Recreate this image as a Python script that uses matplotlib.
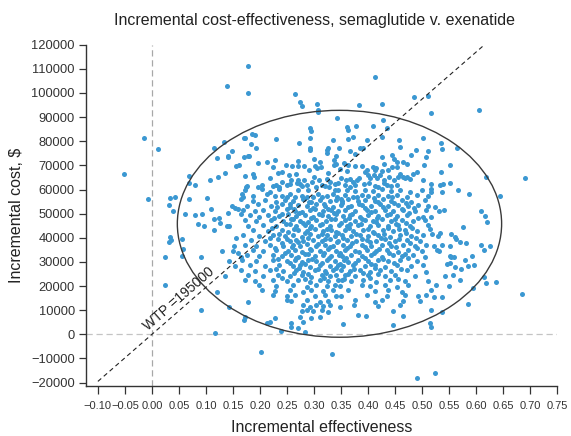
import numpy as np
import matplotlib.pyplot as plt
from matplotlib.patches import Ellipse

plt.rcParams['font.family'] = ['Liberation Sans', 'DejaVu Sans']
plt.rcParams['axes.unicode_minus'] = True

# (incremental effectiveness, incremental cost in $1000)
upper_pts = [
    (0.178, 111.3), (0.138, 102.8), (0.177, 99.9), (0.265, 99.4), (0.274, 96.1),
    (0.278, 94.8), (0.306, 95.4), (0.307, 92.9), (0.307, 92.0), (0.412, 106.6),
    (0.383, 95.2), (0.425, 95.6), (0.484, 98.4), (0.510, 98.7), (0.516, 91.6),
    (0.606, 93.1), (0.343, 89.5), (0.427, 89.0), (0.292, 85.3), (0.294, 84.3),
    (0.361, 85.9), (0.362, 84.8), (0.378, 86.5), (0.434, 85.4), (0.409, 86.2),
    (0.172, 81.2), (0.185, 82.8), (0.190, 82.6), (0.229, 80.8), (0.292, 81.4),
    (0.335, 80.5), (0.362, 80.9), (0.372, 81.8), (0.397, 80.5), (0.425, 81.8),
    (0.457, 80.7), (0.501, 81.4), (-0.015, 81.35), (0.171, 81.35),
    (0.134, 79.7), (0.114, 77.2), (0.149, 75.95), (0.0106, 76.66), (0.184, 79.0),
    (0.193, 77.0), (0.272, 79.4), (0.292, 77.0), (0.292, 76.2), (0.325, 77.4),
    (0.324, 76.2), (0.323, 75.1), (0.346, 77.1), (0.366, 76.0), (0.385, 77.4),
    (0.391, 77.2), (0.459, 77.6), (0.489, 76.4), (0.510, 76.1), (0.534, 79.2),
    (0.536, 76.8), (0.564, 77.1),
    (0.121, 72.9), (0.140, 73.6), (0.140, 73.9), (0.170, 73.3), (0.178, 73.9),
    (0.162, 70.3), (0.155, 69.6), (0.136, 67.0), (0.068, 65.6), (0.122, 65.1),
    (0.108, 64.1), (0.068, 62.9), (0.080, 62.0), (0.172, 65.6), (0.174, 60.9),
    (-0.051, 66.4), (-0.007, 56.0),
    (0.375, 74.9), (0.426, 73.5), (0.444, 74.5), (0.448, 72.8), (0.180, 73.9),
    (0.228, 72.4), (0.196, 71.1), (0.212, 71.4), (0.224, 69.2), (0.248, 70.0),
    (0.271, 71.7), (0.259, 69.6), (0.271, 69.6), (0.282, 69.6), (0.299, 72.8),
    (0.311, 71.5), (0.312, 69.2), (0.301, 69.6), (0.305, 68.9), (0.340, 73.7),
    (0.337, 72.4), (0.337, 70.0), (0.341, 70.4), (0.348, 68.6), (0.356, 71.1),
    (0.363, 70.0), (0.375, 69.9), (0.388, 69.6), (0.398, 68.2), (0.409, 69.3),
    (0.412, 68.2), (0.415, 68.8), (0.430, 70.4), (0.437, 68.2), (0.444, 69.2),
    (0.453, 69.3),
    (0.453, 71.4), (0.465, 71.4), (0.471, 70.7), (0.479, 74.2), (0.507, 73.5),
    (0.503, 70.3), (0.551, 70.3), (0.535, 67.2), (0.459, 66.6), (0.464, 65.1),
    (0.468, 64.9), (0.472, 65.1), (0.477, 64.5), (0.483, 66.6), (0.491, 67.2),
    (0.502, 63.8), (0.517, 62.1), (0.533, 62.0), (0.539, 62.4), (0.551, 62.8),
    (0.619, 65.1), (0.690, 64.9), (0.567, 59.9),
    (0.187, 66.3), (0.189, 65.2), (0.218, 64.9), (0.234, 66.8), (0.254, 65.9),
    (0.258, 63.8), (0.266, 66.6), (0.271, 64.1), (0.274, 62.4), (0.282, 64.1),
    (0.300, 65.2), (0.309, 63.8), (0.324, 64.5), (0.329, 63.1), (0.338, 62.4),
    (0.328, 61.0), (0.350, 64.7), (0.359, 63.8), (0.366, 64.5), (0.380, 63.8),
    (0.383, 64.9), (0.392, 62.4), (0.399, 65.9), (0.404, 64.9), (0.410, 65.9),
    (0.416, 64.9), (0.422, 65.9), (0.429, 63.8), (0.439, 65.2), (0.448, 63.8),
    (0.456, 65.2),
    (0.175, 61.6), (0.196, 61.2), (0.203, 61.9), (0.224, 61.4), (0.230, 62.0),
    (0.236, 61.1), (0.249, 61.7), (0.255, 62.1), (0.277, 61.3), (0.286, 61.8),
    (0.304, 61.2), (0.314, 61.9), (0.320, 61.4), (0.357, 61.7), (0.366, 61.0),
    (0.375, 62.0), (0.412, 61.5), (0.419, 61.1), (0.434, 61.8), (0.443, 61.3),
    (0.453, 61.9),
]

left_pts = [
    (0.033, 56.4), (0.043, 56.9), (0.031, 53.4), (0.039, 51.3), (0.068, 56.2),
    (0.101, 56.4), (0.061, 49.8), (0.079, 49.5), (0.093, 49.7), (0.110, 51.8),
    (0.114, 47.9), (0.124, 48.3), (0.126, 46.3), (0.085, 45.8), (0.096, 44.7),
    (0.114, 43.3), (0.138, 44.7), (0.143, 45.0), (0.141, 50.4), (0.149, 53.0),
    (0.154, 52.2), (0.159, 51.9), (0.164, 49.9),
    (0.033, 40.5), (0.035, 38.9), (0.031, 38.4), (0.056, 39.5), (0.057, 35.4),
    (0.056, 32.6), (0.025, 32.2), (0.091, 32.2), (0.130, 34.4), (0.151, 36.8),
    (0.156, 39.8), (0.150, 34.7), (0.160, 33.9), (0.142, 30.5), (0.154, 28.5),
    (0.135, 24.0), (0.121, 17.7), (0.024, 20.6), (0.090, 10.1), (0.143, 11.4),
    (0.116, 0.6), (0.170, 5.9), (0.164, 31.9),
]

core_pts_a = [
    (0.166, 58.0), (0.172, 59.6), (0.169, 56.8), (0.187, 57.5), (0.212, 58.3),
    (0.227, 57.5), (0.240, 57.5), (0.255, 58.3), (0.264, 56.8), (0.277, 57.5),
    (0.286, 56.8), (0.298, 57.1), (0.307, 58.3), (0.323, 57.5), (0.335, 58.0),
    (0.343, 57.1), (0.270, 59.9), (0.289, 59.6), (0.338, 60.0), (0.344, 59.6),
    (0.204, 60.3), (0.235, 60.3), (0.218, 59.0),
    (0.165, 55.9), (0.187, 55.1), (0.209, 55.8), (0.230, 54.9), (0.246, 55.6),
    (0.261, 55.2), (0.280, 56.0), (0.295, 55.0), (0.311, 55.7), (0.329, 55.3),
    (0.341, 55.8),
    (0.175, 53.0), (0.196, 53.8), (0.221, 53.2), (0.240, 53.9), (0.255, 52.9),
    (0.270, 53.6), (0.286, 53.1), (0.304, 53.9), (0.320, 53.3), (0.335, 52.8),
    (0.169, 51.7), (0.190, 50.9), (0.206, 51.6), (0.227, 51.0), (0.249, 51.8),
    (0.264, 51.2), (0.277, 50.8), (0.292, 51.5), (0.301, 51.9), (0.317, 51.1),
    (0.332, 51.6), (0.345, 50.9),
    (0.181, 49.6), (0.199, 48.8), (0.215, 49.5), (0.236, 49.0), (0.252, 49.7),
    (0.267, 48.9), (0.283, 49.4), (0.298, 48.7), (0.314, 49.6), (0.326, 49.1),
    (0.341, 49.8),
    (0.172, 47.5), (0.193, 46.8), (0.221, 47.4), (0.243, 46.9), (0.261, 47.6),
    (0.274, 47.0), (0.289, 46.7), (0.304, 47.5), (0.322, 47.0), (0.338, 47.6),
    (0.178, 44.8), (0.206, 45.5), (0.230, 45.0), (0.255, 45.6), (0.267, 44.7),
    (0.283, 45.3), (0.295, 44.9), (0.311, 45.5), (0.329, 45.0), (0.346, 45.4),
    (0.187, 43.3), (0.215, 42.7), (0.240, 43.4), (0.252, 42.6), (0.270, 43.2),
    (0.286, 42.8), (0.301, 43.5), (0.317, 42.9), (0.332, 43.3), (0.341, 42.5),
    (0.169, 41.2), (0.199, 40.6), (0.224, 41.3), (0.246, 40.7), (0.261, 41.1),
    (0.277, 40.5), (0.292, 41.4), (0.307, 40.8), (0.323, 41.2), (0.338, 40.6),
    (0.184, 39.2), (0.209, 38.6), (0.233, 39.3), (0.255, 38.7), (0.267, 39.1),
    (0.280, 38.5), (0.298, 39.2), (0.314, 38.8), (0.329, 39.4), (0.345, 38.6),
    (0.172, 37.1), (0.193, 36.5), (0.218, 37.2), (0.243, 36.6), (0.261, 37.0),
    (0.274, 36.4), (0.286, 37.3), (0.304, 36.7), (0.320, 37.1), (0.335, 36.5),
    (0.187, 35.0), (0.206, 34.4), (0.230, 35.1), (0.252, 34.5), (0.264, 34.9),
    (0.277, 34.3), (0.295, 35.0), (0.311, 34.6), (0.326, 35.2), (0.341, 34.4),
    (0.175, 32.9), (0.199, 32.3), (0.224, 33.0), (0.240, 32.4), (0.258, 32.8),
    (0.270, 32.2), (0.283, 33.1), (0.301, 32.5), (0.317, 32.9), (0.332, 32.3),
    (0.346, 32.8),
    (0.167, 30.8), (0.193, 30.2), (0.224, 30.9), (0.249, 30.3), (0.264, 30.7),
    (0.277, 30.1), (0.289, 30.8), (0.304, 30.4), (0.323, 30.9), (0.338, 30.2),
    (0.181, 28.8), (0.209, 28.2), (0.236, 28.9), (0.261, 28.3), (0.274, 28.7),
    (0.292, 28.1), (0.311, 28.8), (0.329, 28.4), (0.345, 28.9),
    (0.165, 26.7), (0.190, 26.1), (0.218, 26.8), (0.243, 26.2), (0.267, 26.6),
    (0.280, 26.0), (0.301, 26.7), (0.320, 26.3), (0.335, 26.8),
    (0.178, 24.6), (0.206, 24.0), (0.233, 24.7), (0.255, 24.1), (0.277, 24.5),
    (0.295, 23.9), (0.314, 24.6), (0.329, 24.2), (0.341, 24.7),
    (0.172, 22.5), (0.190, 21.9), (0.224, 22.6), (0.249, 22.0), (0.270, 22.4),
    (0.292, 21.8), (0.311, 22.5), (0.326, 22.1), (0.345, 22.6),
    (0.199, 20.5), (0.230, 19.9), (0.261, 20.4), (0.286, 19.8), (0.304, 20.5),
    (0.323, 20.0), (0.338, 20.3),
    (0.203, 18.4), (0.227, 17.8), (0.255, 18.3), (0.280, 17.7), (0.295, 18.4),
    (0.317, 17.9), (0.335, 18.2),
    (0.224, 16.3), (0.249, 15.7), (0.264, 16.2), (0.301, 15.8), (0.320, 16.4),
    (0.341, 15.9),
    (0.178, 13.6), (0.249, 14.2), (0.258, 13.7), (0.286, 14.1), (0.311, 13.6),
    (0.326, 14.0),
    (0.280, 12.1), (0.292, 11.5), (0.304, 12.0), (0.317, 11.6), (0.329, 12.2),
    (0.277, 9.5), (0.286, 10.1), (0.298, 9.6), (0.314, 10.0), (0.326, 9.4),
    (0.172, 7.3), (0.227, 6.8), (0.274, 7.2), (0.295, 6.7), (0.311, 7.1),
    (0.212, 4.6), (0.218, 5.2), (0.258, 4.7), (0.280, 5.1),
    (0.258, 2.9), (0.270, 2.5), (0.238, 1.5), (0.283, 1.0),
]

core_pts_b = [
    (0.360, 60.0), (0.375, 59.2), (0.394, 59.9), (0.409, 59.4), (0.425, 60.1),
    (0.443, 59.3), (0.459, 59.8), (0.477, 59.1), (0.499, 59.7), (0.517, 60.2),
    (0.357, 57.8), (0.372, 57.1), (0.388, 57.7), (0.400, 57.2), (0.419, 57.9),
    (0.437, 57.3), (0.453, 57.6), (0.471, 57.0), (0.490, 57.8), (0.511, 57.3),
    (0.352, 55.2), (0.363, 55.9), (0.382, 55.1), (0.394, 55.7), (0.412, 55.3),
    (0.428, 56.0), (0.443, 55.2), (0.462, 55.8), (0.480, 55.0), (0.505, 55.6),
    (0.350, 53.7), (0.369, 53.0), (0.388, 53.6), (0.406, 53.1), (0.422, 53.8),
    (0.437, 53.2), (0.456, 53.7), (0.474, 53.0), (0.493, 53.5), (0.511, 53.1),
    (0.358, 51.6), (0.375, 51.0), (0.397, 51.7), (0.412, 51.1), (0.431, 51.5),
    (0.446, 50.9), (0.465, 51.6), (0.487, 51.0), (0.508, 51.4),
    (0.354, 48.9), (0.366, 49.5), (0.385, 48.8), (0.400, 49.4), (0.419, 48.9),
    (0.434, 49.6), (0.453, 49.0), (0.471, 49.4), (0.502, 48.8),
    (0.357, 47.5), (0.375, 46.9), (0.394, 47.4), (0.409, 46.8), (0.425, 47.6),
    (0.443, 47.0), (0.462, 47.5), (0.483, 46.9), (0.505, 47.3),
    (0.360, 44.8), (0.382, 45.4), (0.403, 44.9), (0.419, 45.5), (0.437, 44.8),
    (0.456, 45.3), (0.477, 44.9), (0.511, 45.4), (0.366, 45.8),
    (0.357, 43.3), (0.372, 42.7), (0.391, 43.2), (0.409, 42.6), (0.428, 43.4),
    (0.446, 42.8), (0.468, 43.1), (0.490, 42.7),
    (0.351, 41.2), (0.369, 40.6), (0.385, 41.3), (0.400, 40.7), (0.419, 41.1),
    (0.440, 40.5), (0.459, 41.2), (0.480, 40.8), (0.502, 41.3),
    (0.360, 39.2), (0.378, 38.6), (0.397, 39.1), (0.415, 38.5), (0.431, 39.3),
    (0.449, 38.7), (0.471, 39.1), (0.496, 38.6),
    (0.354, 37.1), (0.366, 36.5), (0.388, 37.2), (0.406, 36.6), (0.425, 37.0),
    (0.443, 36.4), (0.465, 37.1), (0.487, 36.6), (0.508, 37.0),
    (0.357, 35.0), (0.375, 34.4), (0.397, 35.1), (0.415, 34.5), (0.434, 34.9),
    (0.456, 34.3), (0.474, 35.0), (0.499, 34.6),
    (0.351, 32.3), (0.369, 32.9), (0.388, 32.4), (0.406, 32.8), (0.425, 32.2),
    (0.446, 32.9), (0.462, 32.5), (0.483, 32.8), (0.505, 32.2),
    (0.356, 30.8), (0.363, 30.1), (0.382, 30.7), (0.400, 30.2), (0.419, 30.9),
    (0.437, 30.3), (0.459, 30.6), (0.490, 30.2),
    (0.354, 28.2), (0.372, 28.8), (0.394, 28.3), (0.412, 28.7), (0.431, 28.1),
    (0.453, 28.8), (0.480, 28.4), (0.502, 28.9),
    (0.350, 26.7), (0.366, 26.1), (0.385, 26.6), (0.403, 26.0), (0.422, 26.7),
    (0.443, 26.2), (0.471, 26.5), (0.508, 26.0),
    (0.357, 24.6), (0.375, 24.0), (0.400, 24.5), (0.431, 24.1), (0.449, 24.6),
    (0.487, 24.2),
    (0.352, 22.5), (0.369, 21.9), (0.391, 22.4), (0.415, 21.8), (0.440, 22.5),
    (0.468, 22.0), (0.511, 22.3),
    (0.348, 20.0), (0.388, 20.5), (0.403, 19.9), (0.431, 20.3), (0.453, 19.8),
    (0.474, 20.4),
    (0.363, 18.4), (0.412, 17.8), (0.437, 18.3), (0.462, 17.7), (0.517, 18.2),
    (0.350, 15.7), (0.397, 16.3), (0.434, 15.8), (0.468, 16.2), (0.493, 15.9),
    (0.508, 16.3),
    (0.375, 14.2), (0.412, 13.6), (0.425, 14.1), (0.465, 13.7), (0.496, 14.0),
    (0.348, 11.5), (0.374, 12.1), (0.419, 11.6), (0.459, 12.0),
    (0.446, 9.6), (0.517, 10.0),
    (0.382, 7.9), (0.396, 7.4), (0.465, 7.8),
    (0.354, 4.3), (0.446, 4.0), (0.514, 4.5),
]

# the densest part of the cloud, between the rows above
core_pts_c = [
    (0.240, 67.2), (0.290, 67.9), (0.325, 67.0), (0.360, 67.8), (0.395, 67.1),
    (0.425, 67.6),
    (0.240, 63.1), (0.268, 62.5), (0.296, 63.3), (0.345, 62.7), (0.372, 63.2),
    (0.402, 62.6), (0.430, 62.9),
    (0.250, 56.9), (0.282, 56.2), (0.315, 56.8), (0.349, 56.1), (0.380, 56.7),
    (0.410, 56.3), (0.445, 56.9),
    (0.255, 54.1), (0.290, 54.7), (0.318, 54.2), (0.352, 54.6), (0.384, 54.0),
    (0.418, 54.8), (0.447, 54.3), (0.470, 54.6),
    (0.232, 52.6), (0.262, 52.0), (0.298, 52.5), (0.326, 52.1), (0.362, 52.7),
    (0.395, 52.2), (0.428, 52.6), (0.462, 52.0), (0.485, 52.5),
    (0.241, 49.9), (0.272, 50.4), (0.309, 49.8), (0.337, 50.3), (0.371, 49.9),
    (0.405, 50.5), (0.440, 50.0), (0.476, 50.3),
    (0.226, 48.3), (0.258, 47.8), (0.295, 48.2), (0.331, 47.7), (0.364, 48.3),
    (0.389, 47.9), (0.416, 48.2), (0.450, 47.7), (0.492, 48.1),
    (0.248, 45.8), (0.279, 46.3), (0.315, 45.7), (0.350, 46.2), (0.386, 45.8),
    (0.414, 46.4), (0.451, 45.9), (0.470, 46.2),
    (0.222, 44.1), (0.263, 43.6), (0.292, 44.2), (0.324, 43.7), (0.365, 44.2),
    (0.399, 43.8), (0.436, 44.0), (0.458, 43.6), (0.482, 44.1),
    (0.236, 41.6), (0.283, 42.1), (0.315, 41.7), (0.345, 42.0), (0.377, 41.5),
    (0.410, 42.1), (0.429, 41.6), (0.470, 42.0),
    (0.219, 39.9), (0.250, 39.5), (0.288, 40.0), (0.320, 39.6), (0.353, 40.1),
    (0.388, 39.6), (0.424, 40.0), (0.457, 39.5), (0.489, 40.0),
    (0.241, 37.7), (0.270, 38.2), (0.307, 37.6), (0.342, 38.1), (0.371, 37.7),
    (0.403, 38.2), (0.438, 37.8), (0.478, 38.0),
    (0.228, 35.6), (0.259, 36.0), (0.292, 35.5), (0.330, 36.1), (0.361, 35.7),
    (0.394, 36.0), (0.420, 35.5), (0.451, 36.0), (0.490, 35.7),
    (0.246, 33.9), (0.288, 33.4), (0.318, 33.9), (0.348, 33.5), (0.384, 34.0),
    (0.411, 33.5), (0.439, 33.8), (0.468, 33.4),
    (0.233, 31.4), (0.266, 31.8), (0.296, 31.3), (0.327, 31.8), (0.359, 31.5),
    (0.394, 31.7), (0.428, 31.3), (0.473, 31.8),
    (0.255, 29.6), (0.283, 29.2), (0.315, 29.6), (0.348, 29.3), (0.376, 29.7),
    (0.405, 29.2), (0.447, 29.5),
    (0.229, 27.1), (0.272, 27.5), (0.308, 27.2), (0.340, 27.6), (0.374, 27.1),
    (0.413, 27.5), (0.460, 27.2),
    (0.262, 25.4), (0.289, 25.0), (0.322, 25.5), (0.362, 25.1), (0.391, 25.4),
    (0.418, 25.0),
    (0.240, 23.3), (0.283, 23.0), (0.318, 23.4), (0.356, 23.1), (0.404, 23.3),
    (0.456, 23.0),
]

right_pts = [
    (0.517, 58.9), (0.536, 58.9), (0.587, 58.3), (0.644, 57.5),
    (0.524, 52.7), (0.531, 51.3), (0.540, 51.7), (0.517, 48.5), (0.609, 51.3),
    (0.616, 49.1), (0.620, 46.4),
    (0.514, 43.7), (0.519, 41.6), (0.530, 40.9), (0.533, 41.9), (0.554, 41.6),
    (0.561, 40.2), (0.562, 39.6), (0.570, 38.1), (0.576, 44.4), (0.582, 37.7),
    (0.608, 37.2), (0.615, 35.1), (0.626, 36.8),
    (0.522, 36.8), (0.528, 35.0), (0.532, 34.7), (0.537, 37.1), (0.551, 36.4),
    (0.551, 32.6), (0.554, 31.9), (0.559, 32.2), (0.546, 29.2), (0.551, 29.5),
    (0.579, 30.9), (0.593, 32.6), (0.585, 28.5), (0.596, 28.8), (0.560, 27.8),
    (0.572, 27.1), (0.557, 24.6), (0.542, 24.3), (0.570, 22.6), (0.615, 23.6),
    (0.619, 21.1), (0.637, 21.5), (0.525, 20.4), (0.549, 20.1), (0.594, 19.1),
    (0.522, 15.6), (0.537, 15.6), (0.585, 12.7), (0.537, 9.06), (0.516, 3.24),
    (0.685, 16.7),
]

low_pts = [
    (0.201, -7.3), (0.333, -8.2), (0.491, -17.95), (0.524, -16.0),
]

wtp = 195000
ell_center = (0.347, 45800)
ell_rx, ell_ry = 0.300, 47000

x_ticks = np.round(np.arange(-0.10, 0.751, 0.05), 2)
y_ticks = np.arange(-20000, 120001, 10000)

pts = np.array(upper_pts + left_pts + core_pts_a + core_pts_b + core_pts_c
               + right_pts + low_pts)
eff = pts[:, 0]
cost = pts[:, 1] * 1000

fig = plt.figure(figsize=(5.71, 4.36), dpi=100)
ax = fig.add_axes([0.1506, 0.1147, 0.8254, 0.7828])

ax.axhline(0, color='#c4c4c4', lw=0.9, ls=(0, (5, 3)), zorder=1)
ax.axvline(0, color='#a8a8a8', lw=0.9, ls=(0, (5, 3)), zorder=1)

ax.scatter(eff, cost, s=13, c='#3b98d2', linewidths=0, zorder=3)

ax.add_patch(Ellipse(ell_center, 2 * ell_rx, 2 * ell_ry, fill=False,
                     ec='#3a3a3a', lw=1.0, zorder=4))

xs = np.array([-0.10, 0.75])
ax.plot(xs, wtp * xs, color='#222222', lw=0.8, ls=(0, (4, 3)), zorder=4)
ax.text(-0.004, 600, 'WTP =195000', rotation=41, rotation_mode='anchor',
        ha='left', va='bottom', fontsize=10, color='#222222', zorder=5)

ax.set_xlim(-0.122, 0.75)
ax.set_ylim(-21400, 120000)
ax.set_xticks(x_ticks)
ax.set_xticklabels([f'{t:.2f}'.replace('-', '\u2212') for t in x_ticks], fontsize=8)
ax.set_yticks(y_ticks)
ax.set_yticklabels([f'{t}'.replace('-', '\u2212') for t in y_ticks], fontsize=9.3)
ax.tick_params(direction='out', length=5, width=0.9, colors='#333333', pad=3)
ax.tick_params(axis='x', length=6, pad=5)

for s in ['top', 'right']:
    ax.spines[s].set_visible(False)
for s in ['left', 'bottom']:
    ax.spines[s].set_linewidth(1.0)
    ax.spines[s].set_color('#333333')

ax.set_xlabel('Incremental effectiveness', fontsize=11.5, color='#222222', labelpad=6)
ax.set_ylabel('Incremental cost, $', fontsize=11.5, color='#222222', labelpad=5)
ax.set_title('Incremental cost-effectiveness, semaglutide v. exenatide',
             fontsize=11.5, color='#222222', pad=14, x=0.485)

fig.savefig('out.png', dpi=100)
